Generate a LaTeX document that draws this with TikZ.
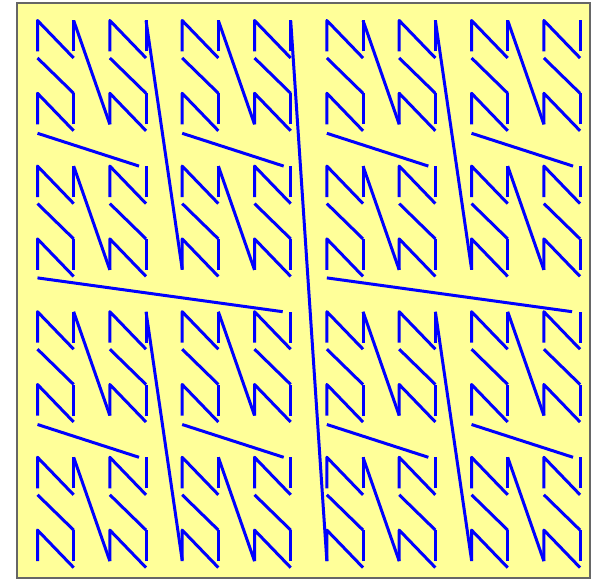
\documentclass[tikz,border=0pt]{standalone}
\definecolor{bgyellow}{RGB}{255,255,153}
\definecolor{bordergray}{RGB}{102,102,102}
\definecolor{curveblue}{RGB}{0,0,255}
\def\cx#1{37.5+36.17*(#1)}
\def\ty#1{20.5+72.8*(#1)}
\begin{document}
\begin{tikzpicture}[x=1pt,y=-1pt,
  curve/.style={draw=curveblue, line width=3pt, line join=round},
  frame/.style={fill=bgyellow, draw=bordergray, line width=2.2pt}]
\useasboundingbox (0,0) rectangle (599,580);
\draw[frame] (17,3) rectangle (590,578);
% 2x2 cells
\foreach \c in {0,...,7}{
  \foreach \k in {0,...,7}{
    \draw[curve] ({\cx{2*\c}},{\ty{\k}+31}) -- ({\cx{2*\c}},{\ty{\k}}) -- ({\cx{2*\c+1}},{\ty{\k}+37.5});
    \draw[curve] ({\cx{2*\c+1}},{\ty{\k}+31}) -- ({\cx{2*\c+1}},{\ty{\k}});
  }
}
% level 1 connectors
\foreach \C in {0,...,3}{
  \foreach \K in {0,...,3}{
    \draw[curve] ({\cx{4*\C+1}},{\ty{2*\K+1}}) -- ({\cx{4*\C}},{\ty{2*\K}+37.5});
    \draw[curve] ({\cx{4*\C+1}},{\ty{2*\K}}) -- ({\cx{4*\C+2}},{\ty{2*\K+1}+31});
    \draw[curve] ({\cx{4*\C+3}},{\ty{2*\K+1}}) -- ({\cx{4*\C+2}},{\ty{2*\K}+37.5});
  }
}
% level 2 connectors
\foreach \P in {0,1}{
  \foreach \Q in {0,1}{
    \draw[curve] ({\cx{8*\P+3}-7},{\ty{4*\Q+2}}) -- ({\cx{8*\P}},{\ty{4*\Q+1}+40});
    \draw[curve] ({\cx{8*\P+3}},{\ty{4*\Q}}) -- ({\cx{8*\P+4}},{\ty{4*\Q+3}+30});
    \draw[curve] ({\cx{8*\P+7}-7},{\ty{4*\Q+2}}) -- ({\cx{8*\P+4}},{\ty{4*\Q+1}+40});
  }
}
% level 3 connectors
\draw[curve] ({\cx{7}-8},{\ty{4}}) -- ({\cx{0}},{\ty{3}+39});
\draw[curve] ({\cx{7}},{\ty{0}}) -- ({\cx{8}},{\ty{7}+31});
\draw[curve] ({\cx{15}-8},{\ty{4}}) -- ({\cx{8}},{\ty{3}+39});
\end{tikzpicture}
\end{document}
